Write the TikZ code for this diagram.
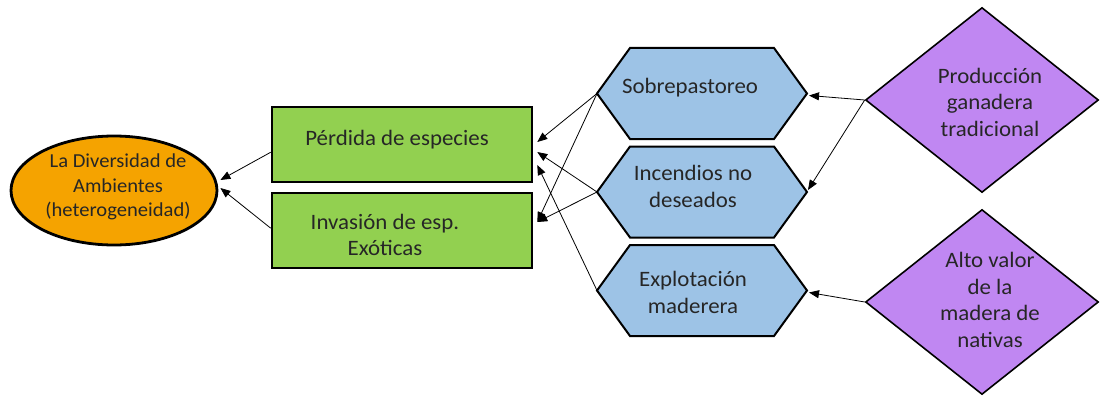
\documentclass[tikz,border=0pt]{standalone}
\usepackage{fontspec}
\setmainfont{Carlito}[FakeStretch=1.04]
\usetikzlibrary{shapes.geometric,arrows.meta,calc}
\definecolor{ellfill}{HTML}{F5A300}
\definecolor{boxfill}{HTML}{92D050}
\definecolor{hexfill}{HTML}{9DC3E6}
\definecolor{diafill}{HTML}{C087F2}
\begin{document}
\begin{tikzpicture}[x=1pt,y=-1pt,
  conn/.style={draw=black,line width=0.8pt,-{Triangle[length=10pt,width=8pt]}},
  txt/.style={font=\fontsize{22}{26.5}\selectfont,align=center,inner sep=0pt,text=black!85},
  ellstyle/.style={ellipse,draw=black,line width=2.8pt,fill=ellfill,minimum width=206pt,minimum height=109pt,inner sep=0pt},
  boxstyle/.style={rectangle,draw=black,line width=2.6pt,fill=boxfill,minimum width=260pt,minimum height=75pt,inner sep=0pt},
  hexframe/.style={rectangle,minimum width=210pt,minimum height=91pt,inner sep=0pt,outer sep=0pt},
  hexstyle/.style={draw=black,line width=2pt,fill=hexfill,line join=miter},
  diastyle/.style={diamond,draw=black,line width=1.6pt,fill=diafill,minimum width=233pt,minimum height=185pt,inner sep=0pt}
]
\useasboundingbox (0,0) rectangle (1100,396);

% ellipse
\node[ellstyle] (ell) at (114,190.5) {};
\node[txt,font=\fontsize{19.8}{24.5}\selectfont] (ellt) at (118,187) {La Diversidad de\\Ambientes\\(heterogeneidad)};

% green boxes
\node[boxstyle] (perd) at (402,144.5) {};
\node[txt] (perdt) at (397,140) {Pérdida de especies};
\node[boxstyle] (inv) at (402,230.5) {};
\node[txt] (invt) at (385,235) {Invasión de esp.\\Exóticas};

% hexagons
\foreach \n/\y in {h1/93.5,h2/192,h3/290.5}{
  \node[hexframe] (\n) at (702,\y) {};
  \draw[hexstyle] (\n.west) -- ([xshift=33pt]\n.north west) -- ([xshift=-33pt]\n.north east)
     -- (\n.east) -- ([xshift=-33pt]\n.south east) -- ([xshift=33pt]\n.south west) -- cycle;
}
\node[txt] (h1t) at (690,88) {Sobrepastoreo};
\node[txt] (h2t) at (693,186.5) {Incendios no\\deseados};
\node[txt] (h3t) at (693,292.5) {Explotación\\maderera};

% diamonds
\node[diastyle] (d1) at (982,100) {};
\node[txt] (d1t) at (990,102) {Producción\\ganadera\\tradicional};
\node[diastyle] (d2) at (982,302) {};
\node[txt] (d2t) at (990,300) {Alto valor\\de la\\madera de\\nativas};

% connectors
\draw[conn] ($(perd.north west)!0.6!(perd.south west)$) -- ([xshift=2pt,yshift=10.5pt]ell.east);
\draw[conn] ($(inv.north west)!0.47!(inv.south west)$) -- ([xshift=2pt,yshift=2.5pt]ell.east);

\draw[conn] (h1.west) -- ([xshift=4pt,yshift=2.5pt]perd.east);
\draw[conn] (h1.west) -- ([xshift=4pt,yshift=8.5pt]inv.east);
\draw[conn] (h2.west) -- ([xshift=4pt,yshift=-7.5pt]perd.east);
\draw[conn] (h2.west) -- ([xshift=4pt,yshift=8.5pt]inv.east);
\draw[conn] (h3.west) -- ([xshift=4pt,yshift=-20.5pt]perd.east);

\draw[conn] (d1.west) -- ([xshift=2pt,yshift=-2pt]h1.east);
\draw[conn] (d1.west) -- ([xshift=1pt,yshift=2pt]h2.east);
\draw[conn] (d2.west) -- ([xshift=2pt,yshift=-2pt]h3.east);
\end{tikzpicture}
\end{document}
